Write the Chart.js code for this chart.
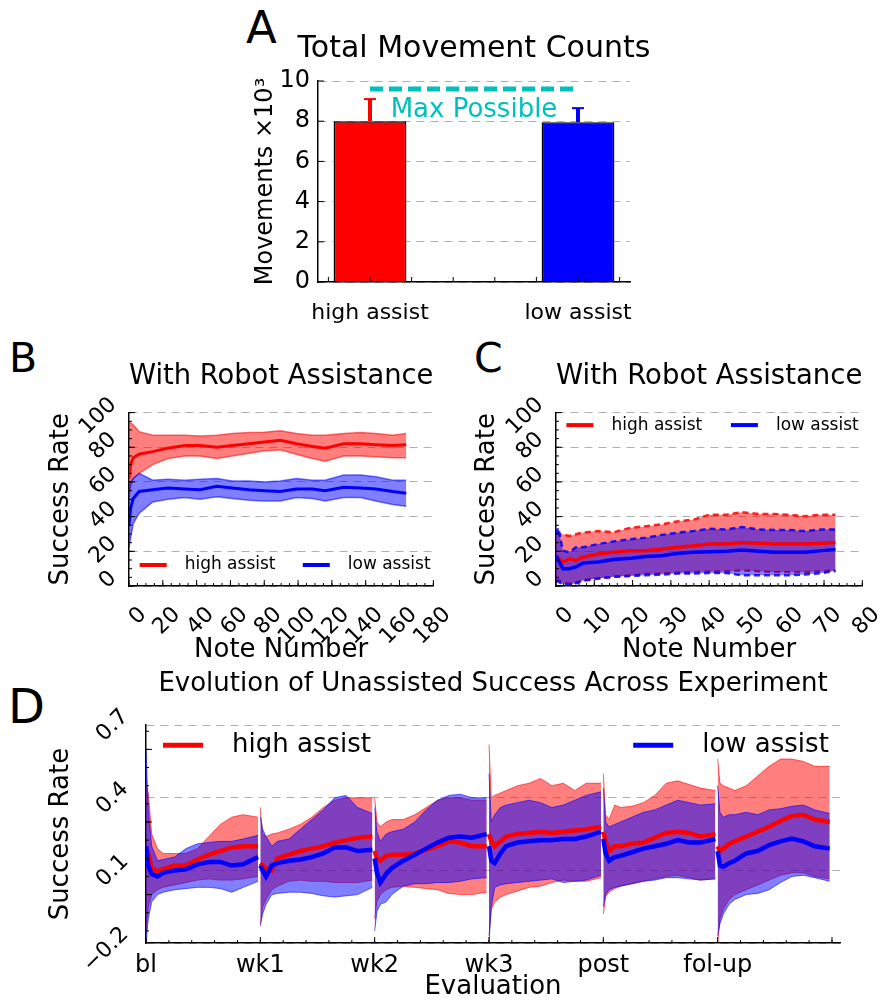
<!DOCTYPE html>
<html><head><meta charset="utf-8">
<script src="https://cdn.jsdelivr.net/npm/chart.js@4/dist/chart.umd.min.js"></script>
<style>
body{margin:0;background:#fff;width:889px;height:1004px;position:relative;overflow:hidden;font-family:'DejaVu Sans',sans-serif;}
canvas{position:absolute;}
.lab{position:absolute;font-family:'DejaVu Sans',sans-serif;line-height:1;color:#000;}
</style></head><body>
<div class="lab" style="left:246px;top:5px;font-size:45px">A</div>
<div class="lab" style="left:9px;top:338px;font-size:41px">B</div>
<div class="lab" style="left:474px;top:338px;font-size:41px">C</div>
<div class="lab" style="left:8px;top:682px;font-size:48px">D</div>
<canvas id="cA" width="508" height="310" style="left:220px;top:20px"></canvas>
<canvas id="cB" width="460" height="330" style="left:0px;top:340px"></canvas>
<canvas id="cC" width="429" height="330" style="left:460px;top:340px"></canvas>
<canvas id="cD" width="889" height="344" style="left:0px;top:660px"></canvas>
<script>
// ---------------- Panel A ----------------
const aCategories = ['high assist', 'low assist'];
const aCounts = [8.0, 7.95];           // movements ×10^3
const aErrors = [1.1, 0.7];
const aMaxPossible = 9.6;
const aMaxLabel = 'Max Possible';

// ---------------- Panel B ----------------
const bNotes     = [0, 1, 2.5, 6, 14, 23, 33, 42, 52, 61, 71, 80, 89.5, 99, 108.5, 116, 127, 137, 146, 156, 164];
const bHighMean  = [62, 70, 74, 76, 77.5, 79.5, 81, 81, 80, 81, 82, 83, 84, 82, 80.5, 79.5, 82, 82, 81.5, 81, 81.5];
const bHighUpper = [95, 94, 93, 89, 87, 87, 87, 86.5, 87, 88, 88.5, 88.7, 89.5, 88, 87, 87, 88, 88.5, 88, 87, 88];
const bHighLower = [50, 58, 62, 65, 70, 73.5, 75, 75, 73.5, 75, 76.5, 78, 78.5, 76, 73.5, 72, 75, 75, 74.5, 74, 74];
const bLowMean   = [35, 45, 50.5, 54.5, 55.5, 56.5, 56, 55.5, 57.5, 56.5, 55.5, 55, 54.5, 56, 56, 55, 57, 56.5, 56, 54.5, 53.5];
const bLowUpper  = [55, 60, 62, 65, 61, 61.5, 61, 61.5, 62, 60.5, 60.5, 60, 60.5, 62, 61, 61, 64, 64, 63, 61, 61];
const bLowLower  = [22, 28, 36, 42, 48.5, 50, 51, 50, 51.5, 50.5, 49.5, 49, 49, 51, 50.5, 49, 51, 51, 49, 47, 46];

// ---------------- Panel C ----------------
const cNotes     = [0, 0.6, 1.8, 3.5, 5.2, 7, 11, 15, 19.5, 23.5, 27.5, 32, 36, 40, 44.5, 48.5, 53, 57, 61, 65, 69.5, 73];
const cHighMean  = [17, 16.6, 13.8, 15.7, 14.7, 16.6, 18.5, 19.4, 20.4, 20.4, 21.3, 22.3, 23.2, 24.2, 24.2, 25.1, 24.7, 24.2, 24.2, 24.2, 24.7, 25.1];
const cHighUpper = [31, 30, 29.8, 28.9, 29.8, 30.8, 31.7, 31, 33.6, 34.5, 35.5, 37.4, 38.3, 41.1, 41.1, 42.6, 41.5, 41.5, 41.1, 40.2, 41.1, 41.1];
const cHighLower = [4, 3.4, 2, 1.5, 2, 3.4, 4.3, 5.3, 6, 7, 7.2, 7.8, 8.1, 8.3, 8.5, 9, 8.5, 8.1, 8.1, 8.1, 8.5, 9];
const cLowMean   = [17.5, 15, 10, 10, 11, 13.2, 13.8, 15.3, 16, 17, 17.5, 18.9, 19.4, 19.8, 20, 20.8, 20, 19.4, 19.4, 19.4, 20.4, 21];
const cLowUpper  = [30, 33.6, 20.4, 19.4, 22.3, 22.3, 24.2, 25.7, 27, 27.9, 29.4, 30.8, 31.7, 33, 32.6, 34, 32.6, 32.3, 32.3, 31.7, 32.6, 32.6];
const cLowLower  = [3, 2.5, 1, 0.6, 1.5, 3, 4.3, 5.3, 5.8, 6.2, 6.6, 7.2, 7.2, 7.5, 7.5, 6.2, 6.2, 6.2, 6.2, 6.6, 7.5, 8.7];

// ---------------- Panel D ----------------
const dSegments = ['bl', 'wk1', 'wk2', 'wk3', 'post', 'fol-up'];
const dSegmentSpan = 100;
const dOffsets = [0, 2, 5, 10, 15, 25, 35, 45, 55, 65, 75, 85, 98];
const dHighMean = [
  [0.16, 0.17, 0.11, 0.095, 0.105, 0.12, 0.12, 0.145, 0.165, 0.18, 0.195, 0.2, 0.2],
  [0.13, 0.12, 0.11, 0.1, 0.15, 0.165, 0.18, 0.19, 0.2, 0.215, 0.225, 0.235, 0.24],
  [0.18, 0.15, 0.14, 0.16, 0.165, 0.165, 0.17, 0.185, 0.2, 0.22, 0.215, 0.2, 0.2],
  [0.25, 0.22, 0.2, 0.22, 0.24, 0.25, 0.255, 0.26, 0.255, 0.26, 0.265, 0.27, 0.28],
  [0.26, 0.22, 0.18, 0.2, 0.2, 0.21, 0.215, 0.235, 0.255, 0.26, 0.255, 0.24, 0.25],
  [0.2, 0.18, 0.19, 0.21, 0.22, 0.24, 0.26, 0.28, 0.305, 0.325, 0.33, 0.31, 0.3]
];
const dHighUpper = [
  [0.45, 0.42, 0.25, 0.19, 0.17, 0.17, 0.17, 0.19, 0.24, 0.29, 0.32, 0.33, 0.32],
  [0.36, 0.25, 0.24, 0.25, 0.255, 0.27, 0.29, 0.32, 0.36, 0.39, 0.4, 0.4, 0.4],
  [0.4, 0.3, 0.28, 0.3, 0.31, 0.31, 0.33, 0.36, 0.39, 0.4, 0.4, 0.39, 0.39],
  [0.62, 0.4, 0.41, 0.42, 0.43, 0.45, 0.46, 0.48, 0.45, 0.46, 0.43, 0.46, 0.46],
  [0.5, 0.33, 0.31, 0.37, 0.36, 0.365, 0.38, 0.41, 0.46, 0.47, 0.455, 0.44, 0.43],
  [0.56, 0.46, 0.45, 0.44, 0.43, 0.45, 0.49, 0.53, 0.56, 0.56, 0.55, 0.53, 0.53]
];
const dHighLower = [
  [-0.15, -0.05, 0.0, 0.02, 0.03, 0.04, 0.05, 0.06, 0.065, 0.06, 0.06, 0.065, 0.075],
  [-0.12, -0.05, -0.02, 0.02, 0.035, 0.055, 0.06, 0.055, 0.055, 0.05, 0.05, 0.05, 0.06],
  [-0.1, -0.03, 0.0, 0.02, 0.03, 0.035, 0.03, 0.025, 0.02, 0.005, 0.0, 0.0, 0.01],
  [-0.17, -0.06, -0.03, -0.01, 0.0, 0.015, 0.03, 0.035, 0.05, 0.06, 0.055, 0.055, 0.07],
  [-0.08, -0.01, 0.01, 0.025, 0.035, 0.045, 0.055, 0.065, 0.075, 0.08, 0.07, 0.06, 0.065],
  [-0.2, -0.1, -0.06, -0.02, 0.0, 0.02, 0.04, 0.06, 0.08, 0.09, 0.09, 0.075, 0.065]
];
const dLowMean = [
  [0.2, 0.12, 0.085, 0.075, 0.09, 0.1, 0.105, 0.125, 0.135, 0.135, 0.12, 0.125, 0.155],
  [0.12, 0.1, 0.075, 0.12, 0.13, 0.14, 0.145, 0.155, 0.17, 0.195, 0.195, 0.18, 0.185],
  [0.15, 0.09, 0.05, 0.085, 0.11, 0.14, 0.165, 0.19, 0.215, 0.235, 0.24, 0.235, 0.25],
  [0.2, 0.14, 0.13, 0.17, 0.2, 0.215, 0.22, 0.225, 0.225, 0.23, 0.23, 0.24, 0.26],
  [0.23, 0.17, 0.14, 0.155, 0.16, 0.175, 0.19, 0.2, 0.21, 0.225, 0.215, 0.215, 0.23],
  [0.18, 0.12, 0.115, 0.13, 0.14, 0.17, 0.18, 0.205, 0.22, 0.232, 0.22, 0.2, 0.19]
];
const dLowUpper = [
  [0.6, 0.35, 0.2, 0.14, 0.145, 0.155, 0.19, 0.21, 0.215, 0.22, 0.22, 0.23, 0.245],
  [0.32, 0.27, 0.24, 0.2, 0.22, 0.23, 0.27, 0.31, 0.35, 0.4, 0.41, 0.36, 0.335],
  [0.36, 0.26, 0.22, 0.25, 0.26, 0.27, 0.3, 0.35, 0.39, 0.41, 0.415, 0.4, 0.4],
  [0.5, 0.3, 0.33, 0.36, 0.37, 0.38, 0.39, 0.38, 0.36, 0.37, 0.39, 0.41, 0.425],
  [0.44, 0.3, 0.28, 0.29, 0.3, 0.32, 0.34, 0.35, 0.37, 0.39, 0.38, 0.37, 0.375],
  [0.45, 0.34, 0.32, 0.33, 0.33, 0.34, 0.33, 0.35, 0.355, 0.365, 0.37, 0.35, 0.335]
];
const dLowLower = [
  [-0.2, -0.1, -0.03, 0.0, 0.01, 0.02, 0.025, 0.03, 0.03, 0.025, 0.01, 0.03, 0.055],
  [-0.13, -0.08, -0.04, 0.0, 0.005, 0.01, 0.01, 0.005, -0.005, -0.01, -0.005, 0.0, 0.03],
  [-0.15, -0.07, -0.04, -0.03, 0.0, 0.035, 0.045, 0.045, 0.05, 0.05, 0.055, 0.065, 0.07],
  [-0.2, -0.05, 0.03, 0.04, 0.045, 0.05, 0.055, 0.06, 0.065, 0.05, 0.055, 0.06, 0.08],
  [-0.05, 0.0, 0.02, 0.03, 0.035, 0.045, 0.055, 0.06, 0.07, 0.07, 0.065, 0.06, 0.065],
  [-0.17, -0.12, -0.08, -0.04, -0.02, 0.0, 0.005, 0.02, 0.05, 0.075, 0.08, 0.07, 0.055]
];

const seriesLabels = ['high assist', 'low assist'];

// ---------------- Chart.js setup ----------------
Chart.defaults.font.family = "'DejaVu Sans', sans-serif";
Chart.defaults.color = '#000';
Chart.defaults.animation = false;
Chart.defaults.responsive = false;
Chart.defaults.plugins.legend.display = false;
Chart.defaults.plugins.tooltip.enabled = false;
Chart.defaults.elements.point.radius = 0;
Chart.defaults.elements.line.tension = 0;

const RED = '#ff0000', BLUE = '#0000ff';
const RED_FILL = 'rgba(255,0,0,0.5)', BLUE_FILL = 'rgba(0,0,255,0.5)';

const insideTicks = {
  id: 'insideTicks',
  afterDraw(chart, args, opts) {
    if (!opts.axes) return;
    const ctx = chart.ctx; const {left, bottom} = chart.chartArea;
    ctx.save(); ctx.strokeStyle = '#000'; ctx.lineWidth = 1;
    for (const a of opts.axes) {
      const sc = chart.scales[a.id];
      for (const [step, len] of [[a.minor, a.minorLen || 3], [a.major, a.majorLen || 6]]) {
        if (!step) continue;
        const k0 = Math.ceil(sc.min / step - 1e-6), k1 = Math.floor(sc.max / step + 1e-6);
        for (let k = k0; k <= k1; k++) {
          const p = sc.getPixelForValue(k * step);
          ctx.beginPath();
          if (sc.isHorizontal()) { ctx.moveTo(p, bottom); ctx.lineTo(p, bottom - len); }
          else { ctx.moveTo(left, p); ctx.lineTo(left + len, p); }
          ctx.stroke();
        }
      }
    }
    ctx.restore();
  }
};

const inLegend = {
  id: 'inLegend',
  afterDatasetsDraw(chart, args, opts) {
    if (!opts.items) return;
    const ctx = chart.ctx; const {left, top, width, height} = chart.chartArea;
    ctx.save();
    ctx.font = opts.size + "px 'DejaVu Sans'";
    ctx.textBaseline = 'middle'; ctx.textAlign = 'left';
    for (const it of opts.items) {
      const ds = chart.data.datasets[it.dataset];
      const x = left + it.fx * width, y = top + it.fy * height;
      ctx.strokeStyle = ds.borderColor; ctx.lineWidth = opts.lineWidth; ctx.lineCap = 'butt';
      ctx.beginPath(); ctx.moveTo(x, y); ctx.lineTo(x + opts.lineLen, y); ctx.stroke();
      ctx.fillStyle = '#000';
      ctx.fillText(ds.label, x + opts.lineLen + opts.gap, y);
    }
    ctx.restore();
  }
};

const errorBars = {
  id: 'errorBars',
  afterDatasetsDraw(chart, args, opts) {
    if (!opts.values) return;
    const ctx = chart.ctx, ys = chart.scales.y, ds = chart.data.datasets[0];
    chart.getDatasetMeta(0).data.forEach((bar, i) => {
      const top = ys.getPixelForValue(ds.data[i].y + opts.values[i]);
      ctx.save(); ctx.strokeStyle = ds.backgroundColor[i];
      ctx.lineWidth = 4; ctx.beginPath(); ctx.moveTo(bar.x, bar.y); ctx.lineTo(bar.x, top); ctx.stroke();
      ctx.lineWidth = 2; ctx.beginPath(); ctx.moveTo(bar.x - 6, top); ctx.lineTo(bar.x + 6, top); ctx.stroke();
      ctx.restore();
    });
  }
};

const lineLabel = {
  id: 'lineLabel',
  afterDatasetsDraw(chart, args, opts) {
    if (opts.dataset === undefined) return;
    const ds = chart.data.datasets[opts.dataset], pts = chart.getDatasetMeta(opts.dataset).data;
    const x = (pts[0].x + pts[pts.length - 1].x) / 2, y = pts[0].y + opts.dy;
    const ctx = chart.ctx; ctx.save();
    ctx.font = opts.size + "px 'DejaVu Sans'"; ctx.fillStyle = ds.borderColor;
    ctx.textAlign = 'center'; ctx.textBaseline = 'middle';
    ctx.fillText(ds.label, x, y); ctx.restore();
  }
};

const pts = (xs, ys) => xs.map((x, i) => ({x, y: ys[i]}));
function segPts(segs) {
  const out = [];
  segs.forEach((arr, s) => {
    if (s > 0) out.push({x: s * dSegmentSpan - 1, y: null});
    arr.forEach((v, i) => out.push({x: s * dSegmentSpan + dOffsets[i], y: v}));
  });
  return out;
}

function bandSets(d, st) {
  return [
    {label: seriesLabels[0], data: d.hm, borderColor: RED, borderWidth: st.meanW, fill: false, order: 1},
    {label: seriesLabels[1], data: d.lm, borderColor: BLUE, borderWidth: st.meanW, fill: false, order: 0},
    {label: 'high upper', data: d.hu, borderColor: st.redEdge, borderWidth: st.edgeW, borderDash: st.dash, backgroundColor: RED_FILL, fill: '+1', order: 3},
    {label: 'high lower', data: d.hl, borderColor: st.redEdge, borderWidth: st.edgeW, borderDash: st.dash, fill: false, order: 3},
    {label: 'low upper', data: d.lu, borderColor: st.blueEdge, borderWidth: st.edgeW, borderDash: st.dash, backgroundColor: BLUE_FILL, fill: '+1', order: 2},
    {label: 'low lower', data: d.ll, borderColor: st.blueEdge, borderWidth: st.edgeW, borderDash: st.dash, fill: false, order: 2}
  ];
}

const gridY = {color: '#b0b0b0', lineWidth: 1, drawTicks: false};
const borderY = {color: '#000', width: 1.5, dash: [8, 6]};
const borderX = {color: '#000', width: 1.5};

// ---------------- Chart A ----------------
new Chart(document.getElementById('cA'), {
  type: 'bar',
  data: {datasets: [
    {type: 'bar', label: 'Movements', data: aCategories.map((c, i) => ({x: i, y: aCounts[i]})),
     backgroundColor: [RED, BLUE], borderColor: '#000', borderWidth: 1.5, barPercentage: 0.35, categoryPercentage: 1, order: 2},
    {type: 'line', label: aMaxLabel, data: [{x: 0, y: aMaxPossible}, {x: aCategories.length - 1, y: aMaxPossible}],
     borderColor: '#00bfbf', borderWidth: 5, borderDash: [13, 6], pointRadius: 0, fill: false, order: 1}
  ]},
  options: {
    layout: {padding: {left: 0, right: 0, top: 0, bottom: 0}},
    plugins: {
      title: {display: true, text: 'Total Movement Counts', color: '#000', font: {size: 30, weight: 'normal'}, padding: {top: 11, bottom: 14}},
      errorBars: {values: aErrors},
      lineLabel: {dataset: 1, dy: 21, size: 26},
      insideTicks: {axes: [{id: 'x', minor: 0.2, minorLen: 5}, {id: 'y', major: 2, majorLen: 6}]}
    },
    scales: {
      x: {type: 'linear', min: -0.25, max: 1.25, offset: false,
          afterBuildTicks: s => { s.ticks = aCategories.map((c, i) => ({value: i})); },
          ticks: {callback: (v, i) => aCategories[i], font: {size: 22}, padding: 10, maxRotation: 0, autoSkip: false},
          grid: {display: false, offset: false}, border: borderX, afterFit: s => { s.height = 48; }},
      y: {type: 'linear', min: 0, max: 10, beginAtZero: true,
          ticks: {stepSize: 2, font: {size: 24}, padding: 8, autoSkip: false},
          grid: gridY, border: borderY,
          title: {display: true, text: 'Movements ×10³', font: {size: 24}, padding: {top: 31, bottom: 0}},
          afterFit: s => { s.width = 98; }},
      // empty right-hand spacer so the title is centred over the plot like the original
      yRight: {type: 'linear', position: 'right', min: 0, max: 10, display: true,
          ticks: {display: false}, grid: {display: false}, border: {display: false},
          afterFit: s => { s.width = 98; }}
    }
  },
  plugins: [insideTicks, errorBars, lineLabel]
});

// ---------------- Chart B / C helper ----------------
function robotChart(id, data, xmax, xStep, xMinor, yW, rightPad, legendItems, style) {
  return new Chart(document.getElementById(id), {
    type: 'line',
    data: {datasets: bandSets(data, style)},
    options: {
      layout: {padding: {left: 0, right: rightPad, top: 0, bottom: 0}},
      plugins: {
        title: {display: true, text: 'With Robot Assistance', fullSize: false, color: '#000', font: {size: 28, weight: 'normal'}, padding: {top: 20, bottom: 19}},
        inLegend: {items: legendItems, size: 17, lineLen: 27, lineWidth: 4, gap: 18},
        insideTicks: {axes: [{id: 'x', major: xStep, minor: xMinor, majorLen: 6, minorLen: 3}, {id: 'y', major: 20, minor: 5, majorLen: 6, minorLen: 3}]}
      },
      scales: {
        x: {type: 'linear', min: 0, max: xmax,
            ticks: {stepSize: xStep, font: {size: 22}, minRotation: 45, maxRotation: 45, padding: 8, labelOffset: 14, autoSkip: false},
            grid: {display: false}, border: borderX,
            title: {display: true, text: 'Note Number', font: {size: 26}, padding: {top: 0, bottom: 4}},
            afterFit: s => { s.height = 84; }},
        y: {type: 'linear', min: 0, max: 100,
            ticks: {stepSize: 20, font: {size: 22}, minRotation: 45, maxRotation: 45, padding: 16, labelOffset: -11, autoSkip: false},
            grid: gridY, border: borderY,
            title: {display: true, text: 'Success Rate', font: {size: 26}, padding: {top: style.yTitlePad, bottom: 0}},
            afterFit: s => { s.width = yW; }}
      }
    },
    plugins: [inLegend, insideTicks]
  });
}

robotChart('cB', {
  hm: pts(bNotes, bHighMean), hu: pts(bNotes, bHighUpper), hl: pts(bNotes, bHighLower),
  lm: pts(bNotes, bLowMean), lu: pts(bNotes, bLowUpper), ll: pts(bNotes, bLowLower)
}, 180, 20, 5, 129, 14,
  [{dataset: 0, fx: 0.035, fy: 0.879}, {dataset: 1, fx: 0.571, fy: 0.879}],
  {meanW: 3, edgeW: 1.5, redEdge: 'rgba(255,0,0,0.55)', blueEdge: 'rgba(0,0,255,0.55)', dash: [], yTitlePad: 46});

robotChart('cC', {
  hm: pts(cNotes, cHighMean), hu: pts(cNotes, cHighUpper), hl: pts(cNotes, cHighLower),
  lm: pts(cNotes, cLowMean), lu: pts(cNotes, cLowUpper), ll: pts(cNotes, cLowLower)
}, 80, 10, 2, 96, 14,
  [{dataset: 0, fx: 0.034, fy: 0.072}, {dataset: 1, fx: 0.571, fy: 0.072}],
  {meanW: 3.5, edgeW: 2.5, redEdge: 'rgba(255,0,0,0.85)', blueEdge: 'rgba(0,0,255,0.85)', dash: [6, 4], yTitlePad: 12});

// ---------------- Chart D ----------------
new Chart(document.getElementById('cD'), {
  type: 'line',
  data: {datasets: bandSets({
    hm: segPts(dHighMean), hu: segPts(dHighUpper), hl: segPts(dHighLower),
    lm: segPts(dLowMean), lu: segPts(dLowUpper), ll: segPts(dLowLower)
  }, {meanW: 4.5, edgeW: 1, redEdge: 'rgba(255,0,0,0.6)', blueEdge: 'rgba(0,0,255,0.6)', dash: []})},
  options: {
    spanGaps: false,
    layout: {padding: {left: 0, right: 49, top: 0, bottom: 0}},
    plugins: {
      title: {display: true, text: 'Evolution of Unassisted Success Across Experiment', fullSize: false, color: '#000', font: {size: 26, weight: 'normal'}, padding: {top: 9, bottom: 25}},
      inLegend: {items: [{dataset: 0, fx: 0.0245, fy: 0.092}, {dataset: 1, fx: 0.702, fy: 0.092}], size: 26, lineLen: 40, lineWidth: 5, gap: 29},
      insideTicks: {axes: [{id: 'x', major: 100, minor: 20, majorLen: 6, minorLen: 3}, {id: 'y', major: 0.3, minor: 0.075, majorLen: 6, minorLen: 3}]}
    },
    scales: {
      x: {type: 'linear', min: 0, max: 607,
          afterBuildTicks: s => { s.ticks = dSegments.map((n, i) => ({value: i * dSegmentSpan})); },
          ticks: {callback: (v, i) => dSegments[i], font: {size: 24}, padding: 0, maxRotation: 0, autoSkip: false},
          grid: {display: false}, border: borderX,
          title: {display: true, text: 'Evaluation', font: {size: 26}, padding: {top: 0, bottom: 1}},
          afterFit: s => { s.height = 61; }},
      y: {type: 'linear', min: -0.2, max: 0.7,
          ticks: {stepSize: 0.3, font: {size: 22}, minRotation: 45, maxRotation: 45, padding: 21, labelOffset: -12, autoSkip: false,
                  callback: v => (v < -1e-9 ? '\u2212' : '') + Math.abs(v).toFixed(1)},
          grid: gridY, border: borderY,
          title: {display: true, text: 'Success Rate', font: {size: 26}, padding: {top: 46, bottom: 0}},
          afterFit: s => { s.width = 146; }}
    }
  },
  plugins: [inLegend, insideTicks]
});
</script>
</body></html>
